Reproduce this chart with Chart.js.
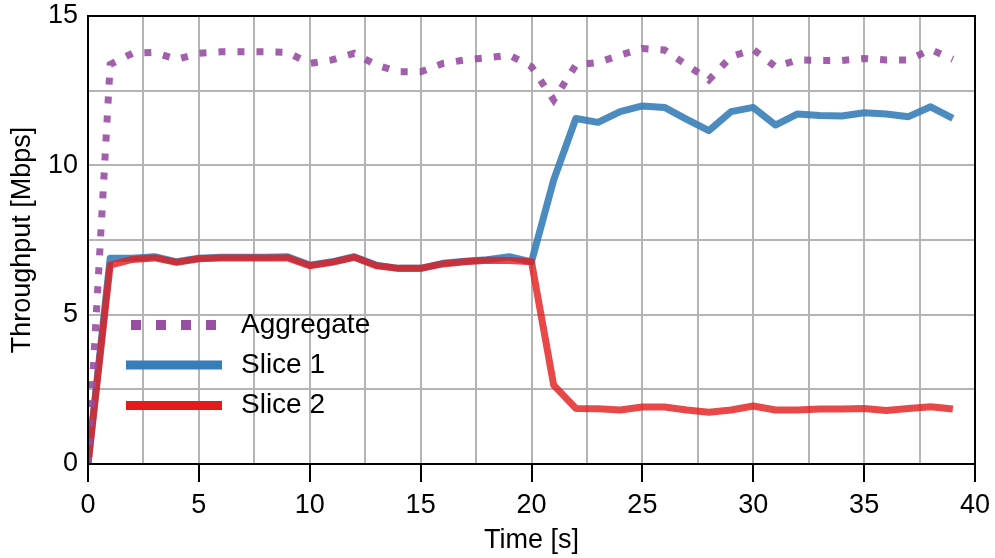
<!DOCTYPE html>
<html>
<head>
<meta charset="utf-8">
<script src="https://cdn.jsdelivr.net/npm/chart.js@4.4.1/dist/chart.umd.min.js"></script>
<style>
  html, body { margin: 0; padding: 0; background: #fff; }
  #wrap { width: 995px; height: 558px; }
</style>
</head>
<body>
<div id="wrap"><canvas id="chart" width="995" height="558"></canvas></div>
<script>
const times = [0, 1, 2, 3, 4, 5, 6, 7, 8, 9, 10, 11, 12, 13, 14, 15, 16, 17, 18, 19,
  20, 21, 22, 23, 24, 25, 26, 27, 28, 29, 30, 31, 32, 33, 34, 35, 36, 37, 38, 39];

const aggregate = [0, 13.38, 13.75, 13.78, 13.55, 13.75, 13.80, 13.80, 13.80, 13.78,
  13.41, 13.53, 13.75, 13.36, 13.13, 13.13, 13.41, 13.53, 13.60, 13.69,
  13.30, 12.19, 13.36, 13.44, 13.69, 13.91, 13.86, 13.36, 12.86, 13.64,
  13.88, 13.30, 13.53, 13.51, 13.51, 13.58, 13.53, 13.53, 13.88, 13.55];

const slice1 = [0, 6.89, 6.89, 6.94, 6.77, 6.89, 6.92, 6.92, 6.92, 6.94,
  6.66, 6.77, 6.94, 6.66, 6.55, 6.55, 6.72, 6.79, 6.84, 6.94,
  6.77, 9.51, 11.57, 11.44, 11.80, 11.99, 11.94, 11.54, 11.16, 11.80,
  11.94, 11.35, 11.72, 11.67, 11.65, 11.76, 11.72, 11.63, 11.96, 11.57];

const slice2 = [0, 6.66, 6.85, 6.90, 6.75, 6.87, 6.90, 6.90, 6.90, 6.90,
  6.64, 6.75, 6.92, 6.64, 6.55, 6.55, 6.70, 6.77, 6.82, 6.81,
  6.77, 2.64, 1.86, 1.85, 1.81, 1.91, 1.91, 1.81, 1.73, 1.81,
  1.94, 1.81, 1.81, 1.84, 1.84, 1.86, 1.79, 1.86, 1.92, 1.84];

const xTicks = [0, 5, 10, 15, 20, 25, 30, 35, 40];
const yTicks = [0, 5, 10, 15];

const FONT = '"Liberation Sans", Arial, Helvetica, sans-serif';
const points = arr => arr.map((v, i) => ({ x: times[i], y: v }));

// frame around the plot area + matplotlib-style legend
const framePlugin = {
  id: 'frame',
  afterDraw(chart) {
    const { ctx, chartArea: a } = chart;
    ctx.save();
    ctx.strokeStyle = '#000';
    ctx.lineWidth = 2;
    ctx.strokeRect(a.left, a.top, a.right - a.left, a.bottom - a.top);

    const rows = [
      { ds: chart.data.datasets[0], y: 325, dash: [10, 15], x0: 131, x1: 217, w: 10, color: '#984ea3' },
      { ds: chart.data.datasets[1], y: 365, dash: [], x0: 126, x1: 222, w: 9, color: '#377eb8' },
      { ds: chart.data.datasets[2], y: 405.5, dash: [], x0: 126, x1: 222, w: 9, color: '#e41a1c' }
    ];
    rows.forEach(r => {
      ctx.beginPath();
      ctx.setLineDash(r.dash);
      ctx.lineCap = 'butt';
      ctx.strokeStyle = r.color;
      ctx.lineWidth = r.w;
      ctx.moveTo(r.x0, r.y);
      ctx.lineTo(r.x1, r.y);
      ctx.stroke();
      ctx.setLineDash([]);
      ctx.fillStyle = '#000';
      ctx.font = '28px ' + FONT;
      ctx.textBaseline = 'middle';
      ctx.textAlign = 'left';
      ctx.fillText(r.ds.label, 241, r.y);
    });
    ctx.restore();
  }
};

new Chart(document.getElementById('chart'), {
  type: 'line',
  data: {
    datasets: [
      {
        label: 'Aggregate',
        data: points(aggregate),
        borderColor: 'rgba(152, 78, 163, 0.9)',
        borderWidth: 7,
        borderDash: [7, 12],
        borderCapStyle: 'butt',
        order: 0
      },
      {
        label: 'Slice 1',
        data: points(slice1),
        borderColor: 'rgba(55, 126, 184, 0.9)',
        borderWidth: 7,
        borderJoinStyle: 'round',
        order: 2
      },
      {
        label: 'Slice 2',
        data: points(slice2),
        borderColor: 'rgba(228, 26, 28, 0.8)',
        borderWidth: 7,
        borderJoinStyle: 'round',
        order: 1
      }
    ]
  },
  options: {
    responsive: false,
    animation: false,
    devicePixelRatio: 1,
    layout: { padding: { top: 16, right: 20, left: 0, bottom: 0 } },
    elements: { point: { radius: 0 }, line: { tension: 0, fill: false } },
    plugins: {
      legend: { display: false },
      tooltip: { enabled: false }
    },
    scales: {
      x: {
        type: 'linear',
        min: 0,
        max: 40,
        afterFit: s => { s.height = 94; s.paddingLeft = 0; s.paddingRight = 0; },
        afterBuildTicks: s => {
          const t = [];
          for (let v = 0; v <= 40; v += 2.5) t.push({ value: v });
          s.ticks = t;
        },
        grid: {
          color: '#b4b4b4',
          lineWidth: 2,
          tickLength: 18,
          tickWidth: 2,
          tickColor: c => xTicks.includes(c.tick && c.tick.value) ? '#000' : 'rgba(0,0,0,0)'
        },
        border: { color: '#000', width: 2 },
        ticks: {
          maxRotation: 0,
          autoSkip: false,
          padding: 7,
          color: '#000',
          font: { family: FONT, size: 27 },
          callback: v => xTicks.includes(v) ? String(v) : ''
        },
        title: {
          display: true,
          text: 'Time [s]',
          color: '#000',
          font: { family: FONT, size: 27, lineHeight: 1.2 },
          padding: { top: 0, bottom: 1 }
        }
      },
      y: {
        min: 0,
        max: 15,
        afterFit: s => { s.width = 88; s.paddingTop = 0; s.paddingBottom = 0; },
        afterBuildTicks: s => {
          const t = [];
          for (let v = 0; v <= 15; v += 2.5) t.push({ value: v });
          s.ticks = t;
        },
        grid: {
          color: '#b4b4b4',
          lineWidth: 2,
          drawTicks: false
        },
        border: { color: '#000', width: 2 },
        ticks: {
          autoSkip: false,
          padding: 10,
          color: '#000',
          font: { family: FONT, size: 27 },
          callback: v => yTicks.includes(v) ? String(v) : ''
        },
        title: {
          display: true,
          text: 'Throughput [Mbps]',
          color: '#000',
          font: { family: FONT, size: 27, lineHeight: 1.2 },
          padding: { top: 6, bottom: 0 }
        }
      }
    }
  },
  plugins: [framePlugin]
});
</script>
</body>
</html>
